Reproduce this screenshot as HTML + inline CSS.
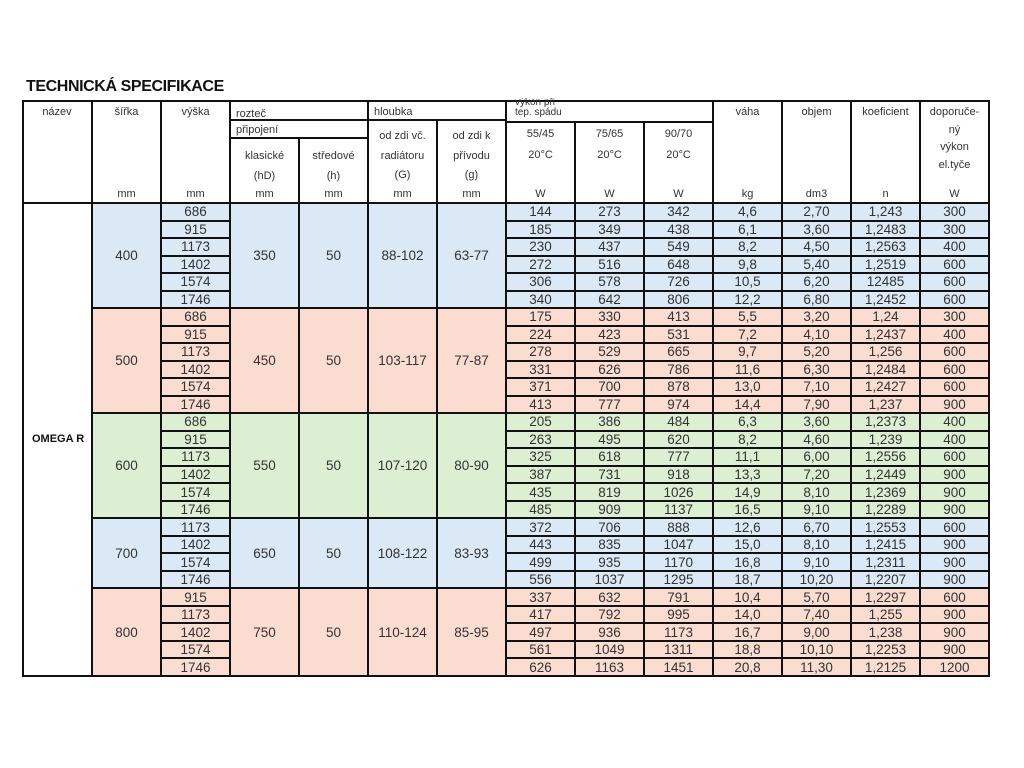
<!DOCTYPE html>
<html><head><meta charset="utf-8"><style>
body{margin:0;width:1024px;height:768px;background:#fff;position:relative;overflow:hidden;font-family:"Liberation Sans",sans-serif;color:#333}
.t{position:absolute;left:26px;top:78px;font-weight:bold;font-size:16px;color:#111;letter-spacing:-0.4px}
.h{position:absolute;font-size:11px;text-align:center;color:#333;line-height:12px}
.l{position:absolute;background:#111}
table{position:absolute;left:22px;top:202px;width:968px;height:475px;border-collapse:collapse;table-layout:fixed;font-size:13.5px}
td{border:2px solid #111;text-align:center;padding:0;line-height:13px;height:14.9px;overflow:hidden}
.b td.c,td.bb{background:#dbe8f5}
.p td.c,td.pp{background:#fadcd0}
.g td.c,td.gg{background:#dcefd3}
td.n{background:#fff;font-weight:bold;font-size:11px;color:#111;text-align:left;padding-left:8px}
</style></head><body>
<div class="t">TECHNICKÁ SPECIFIKACE</div>
<div class="l" style="left:22px;top:100px;width:968px;height:2px"></div>
<div class="l" style="left:22px;top:100px;width:2px;height:104px"></div>
<div class="l" style="left:988px;top:100px;width:2px;height:104px"></div>
<div class="l" style="left:91px;top:100px;width:2px;height:104px"></div>
<div class="l" style="left:160px;top:100px;width:2px;height:104px"></div>
<div class="l" style="left:229px;top:100px;width:2px;height:104px"></div>
<div class="l" style="left:367px;top:100px;width:2px;height:104px"></div>
<div class="l" style="left:505px;top:100px;width:2px;height:104px"></div>
<div class="l" style="left:712px;top:100px;width:2px;height:104px"></div>
<div class="l" style="left:781px;top:100px;width:2px;height:104px"></div>
<div class="l" style="left:850px;top:100px;width:2px;height:104px"></div>
<div class="l" style="left:919px;top:100px;width:2px;height:104px"></div>
<div class="l" style="left:229px;top:119px;width:278px;height:2px"></div>
<div class="l" style="left:229px;top:137px;width:140px;height:2px"></div>
<div class="l" style="left:298px;top:137px;width:2px;height:67px"></div>
<div class="l" style="left:436px;top:119px;width:2px;height:85px"></div>
<div class="l" style="left:505px;top:121px;width:209px;height:2px"></div>
<div class="l" style="left:574px;top:121px;width:2px;height:83px"></div>
<div class="l" style="left:643px;top:121px;width:2px;height:83px"></div>
<div class="h" style="left:22px;top:106px;width:70px">název</div>
<div class="h" style="left:92px;top:106px;width:69px">šířka</div>
<div class="h" style="left:161px;top:106px;width:69px">výška</div>
<div class="h" style="left:236px;top:108px">rozteč</div>
<div class="h" style="left:374px;top:106px">hloubka</div>
<div class="h" style="left:515px;top:102px;height:19px;overflow:hidden;font-size:10px;line-height:10px;text-align:left;margin-top:-4px;padding-top:0"><div style="margin-top:0">výkon při</div><div>tep. spádu</div></div>
<div class="h" style="left:713px;top:106px;width:69px">váha</div>
<div class="h" style="left:782px;top:106px;width:69px">objem</div>
<div class="h" style="left:851px;top:106px;width:69px">koeficient</div>
<div class="h" style="left:920px;top:104px;width:69px;line-height:17.5px">doporuče-<br>ný<br>výkon<br>el.tyče</div>
<div class="h" style="left:236px;top:124px">připojení</div>
<div class="h" style="left:230px;top:147px;width:69px;line-height:19.5px">klasické<br>(hD)</div>
<div class="h" style="left:299px;top:147px;width:69px;line-height:19.5px">středové<br>(h)</div>
<div class="h" style="left:368px;top:127px;width:69px;line-height:19.5px">od zdi vč.<br>radiátoru<br>(G)</div>
<div class="h" style="left:437px;top:127px;width:69px;line-height:19.5px">od zdi k<br>přívodu<br>(g)</div>
<div class="h" style="left:506px;top:124px;width:69px;line-height:21px">55/45<br>20°C</div>
<div class="h" style="left:575px;top:124px;width:69px;line-height:21px">75/65<br>20°C</div>
<div class="h" style="left:644px;top:124px;width:69px;line-height:21px">90/70<br>20°C</div>
<div class="h" style="left:92px;top:188px;width:69px">mm</div>
<div class="h" style="left:161px;top:188px;width:69px">mm</div>
<div class="h" style="left:230px;top:188px;width:69px">mm</div>
<div class="h" style="left:299px;top:188px;width:69px">mm</div>
<div class="h" style="left:368px;top:188px;width:69px">mm</div>
<div class="h" style="left:437px;top:188px;width:69px">mm</div>
<div class="h" style="left:506px;top:188px;width:69px">W</div>
<div class="h" style="left:575px;top:188px;width:69px">W</div>
<div class="h" style="left:644px;top:188px;width:69px">W</div>
<div class="h" style="left:713px;top:188px;width:69px">kg</div>
<div class="h" style="left:782px;top:188px;width:69px">dm3</div>
<div class="h" style="left:851px;top:188px;width:69px">n</div>
<div class="h" style="left:920px;top:188px;width:69px">W</div>
<table>
<colgroup><col><col><col><col><col><col><col><col><col><col><col><col><col><col></colgroup>
<tr class="b"><td class="n" rowspan="28">OMEGA R</td><td class="bb" rowspan="6">400</td><td class="c">686</td><td class="bb" rowspan="6">350</td><td class="bb" rowspan="6">50</td><td class="bb" rowspan="6">88-102</td><td class="bb" rowspan="6">63-77</td><td class="c">144</td><td class="c">273</td><td class="c">342</td><td class="c">4,6</td><td class="c">2,70</td><td class="c">1,243</td><td class="c">300</td></tr>
<tr class="b"><td class="c">915</td><td class="c">185</td><td class="c">349</td><td class="c">438</td><td class="c">6,1</td><td class="c">3,60</td><td class="c">1,2483</td><td class="c">300</td></tr>
<tr class="b"><td class="c">1173</td><td class="c">230</td><td class="c">437</td><td class="c">549</td><td class="c">8,2</td><td class="c">4,50</td><td class="c">1,2563</td><td class="c">400</td></tr>
<tr class="b"><td class="c">1402</td><td class="c">272</td><td class="c">516</td><td class="c">648</td><td class="c">9,8</td><td class="c">5,40</td><td class="c">1,2519</td><td class="c">600</td></tr>
<tr class="b"><td class="c">1574</td><td class="c">306</td><td class="c">578</td><td class="c">726</td><td class="c">10,5</td><td class="c">6,20</td><td class="c">12485</td><td class="c">600</td></tr>
<tr class="b"><td class="c">1746</td><td class="c">340</td><td class="c">642</td><td class="c">806</td><td class="c">12,2</td><td class="c">6,80</td><td class="c">1,2452</td><td class="c">600</td></tr>
<tr class="p"><td class="pp" rowspan="6">500</td><td class="c">686</td><td class="pp" rowspan="6">450</td><td class="pp" rowspan="6">50</td><td class="pp" rowspan="6">103-117</td><td class="pp" rowspan="6">77-87</td><td class="c">175</td><td class="c">330</td><td class="c">413</td><td class="c">5,5</td><td class="c">3,20</td><td class="c">1,24</td><td class="c">300</td></tr>
<tr class="p"><td class="c">915</td><td class="c">224</td><td class="c">423</td><td class="c">531</td><td class="c">7,2</td><td class="c">4,10</td><td class="c">1,2437</td><td class="c">400</td></tr>
<tr class="p"><td class="c">1173</td><td class="c">278</td><td class="c">529</td><td class="c">665</td><td class="c">9,7</td><td class="c">5,20</td><td class="c">1,256</td><td class="c">600</td></tr>
<tr class="p"><td class="c">1402</td><td class="c">331</td><td class="c">626</td><td class="c">786</td><td class="c">11,6</td><td class="c">6,30</td><td class="c">1,2484</td><td class="c">600</td></tr>
<tr class="p"><td class="c">1574</td><td class="c">371</td><td class="c">700</td><td class="c">878</td><td class="c">13,0</td><td class="c">7,10</td><td class="c">1,2427</td><td class="c">600</td></tr>
<tr class="p"><td class="c">1746</td><td class="c">413</td><td class="c">777</td><td class="c">974</td><td class="c">14,4</td><td class="c">7,90</td><td class="c">1,237</td><td class="c">900</td></tr>
<tr class="g"><td class="gg" rowspan="6">600</td><td class="c">686</td><td class="gg" rowspan="6">550</td><td class="gg" rowspan="6">50</td><td class="gg" rowspan="6">107-120</td><td class="gg" rowspan="6">80-90</td><td class="c">205</td><td class="c">386</td><td class="c">484</td><td class="c">6,3</td><td class="c">3,60</td><td class="c">1,2373</td><td class="c">400</td></tr>
<tr class="g"><td class="c">915</td><td class="c">263</td><td class="c">495</td><td class="c">620</td><td class="c">8,2</td><td class="c">4,60</td><td class="c">1,239</td><td class="c">400</td></tr>
<tr class="g"><td class="c">1173</td><td class="c">325</td><td class="c">618</td><td class="c">777</td><td class="c">11,1</td><td class="c">6,00</td><td class="c">1,2556</td><td class="c">600</td></tr>
<tr class="g"><td class="c">1402</td><td class="c">387</td><td class="c">731</td><td class="c">918</td><td class="c">13,3</td><td class="c">7,20</td><td class="c">1,2449</td><td class="c">900</td></tr>
<tr class="g"><td class="c">1574</td><td class="c">435</td><td class="c">819</td><td class="c">1026</td><td class="c">14,9</td><td class="c">8,10</td><td class="c">1,2369</td><td class="c">900</td></tr>
<tr class="g"><td class="c">1746</td><td class="c">485</td><td class="c">909</td><td class="c">1137</td><td class="c">16,5</td><td class="c">9,10</td><td class="c">1,2289</td><td class="c">900</td></tr>
<tr class="b"><td class="bb" rowspan="4">700</td><td class="c">1173</td><td class="bb" rowspan="4">650</td><td class="bb" rowspan="4">50</td><td class="bb" rowspan="4">108-122</td><td class="bb" rowspan="4">83-93</td><td class="c">372</td><td class="c">706</td><td class="c">888</td><td class="c">12,6</td><td class="c">6,70</td><td class="c">1,2553</td><td class="c">600</td></tr>
<tr class="b"><td class="c">1402</td><td class="c">443</td><td class="c">835</td><td class="c">1047</td><td class="c">15,0</td><td class="c">8,10</td><td class="c">1,2415</td><td class="c">900</td></tr>
<tr class="b"><td class="c">1574</td><td class="c">499</td><td class="c">935</td><td class="c">1170</td><td class="c">16,8</td><td class="c">9,10</td><td class="c">1,2311</td><td class="c">900</td></tr>
<tr class="b"><td class="c">1746</td><td class="c">556</td><td class="c">1037</td><td class="c">1295</td><td class="c">18,7</td><td class="c">10,20</td><td class="c">1,2207</td><td class="c">900</td></tr>
<tr class="p"><td class="pp" rowspan="5">800</td><td class="c">915</td><td class="pp" rowspan="5">750</td><td class="pp" rowspan="5">50</td><td class="pp" rowspan="5">110-124</td><td class="pp" rowspan="5">85-95</td><td class="c">337</td><td class="c">632</td><td class="c">791</td><td class="c">10,4</td><td class="c">5,70</td><td class="c">1,2297</td><td class="c">600</td></tr>
<tr class="p"><td class="c">1173</td><td class="c">417</td><td class="c">792</td><td class="c">995</td><td class="c">14,0</td><td class="c">7,40</td><td class="c">1,255</td><td class="c">900</td></tr>
<tr class="p"><td class="c">1402</td><td class="c">497</td><td class="c">936</td><td class="c">1173</td><td class="c">16,7</td><td class="c">9,00</td><td class="c">1,238</td><td class="c">900</td></tr>
<tr class="p"><td class="c">1574</td><td class="c">561</td><td class="c">1049</td><td class="c">1311</td><td class="c">18,8</td><td class="c">10,10</td><td class="c">1,2253</td><td class="c">900</td></tr>
<tr class="p"><td class="c">1746</td><td class="c">626</td><td class="c">1163</td><td class="c">1451</td><td class="c">20,8</td><td class="c">11,30</td><td class="c">1,2125</td><td class="c">1200</td></tr>
</table>
</body></html>
